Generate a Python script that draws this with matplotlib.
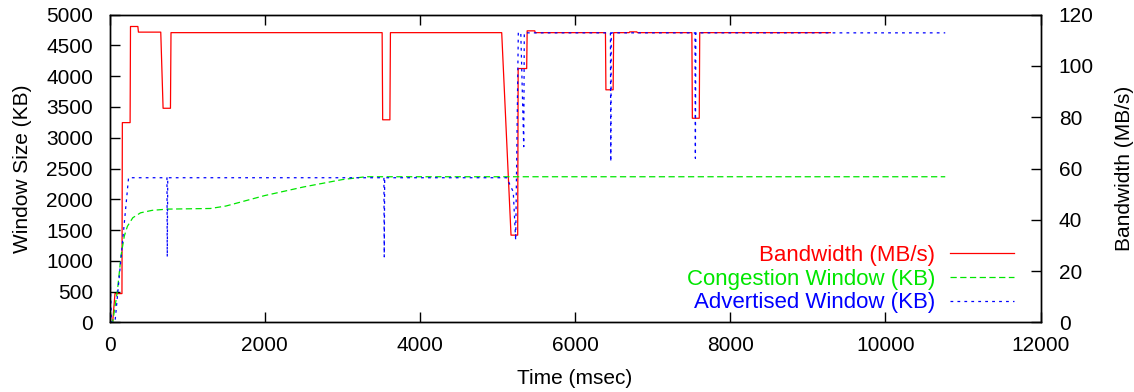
import matplotlib
matplotlib.use("Agg")
import matplotlib.pyplot as plt

plt.rcParams['font.family'] = ['Liberation Sans', 'DejaVu Sans']
plt.rcParams['font.size'] = 15
plt.rcParams['lines.scale_dashes'] = False

# bandwidth (MB/s), right axis
bw_t = [0, 40, 70, 160, 165, 265, 270, 365, 372, 660, 690, 785, 792,
        3513, 3520, 3613, 3620, 5054, 5174, 5260, 5266, 5376, 5382, 5480, 5486,
        6391, 6397, 6490, 6497, 6697, 6703, 6796, 6802, 7505, 7511, 7600, 7606, 9290]
bw = [0, 0, 11.2, 11.2, 77.9, 77.9, 115.4, 115.4, 113.2, 113.2, 83.5, 83.5, 113,
      113, 79, 79, 113, 113, 34, 34, 99, 99, 113.7, 113.7, 113,
      113, 90.7, 90.7, 113, 113, 113.3, 113.3, 113, 113, 79.6, 79.6, 113, 113]

# congestion window (KB)
cwnd_t = [0, 40, 100, 150, 190, 230, 300, 400, 550, 750, 1300, 1500,
          2000, 2500, 3000, 3300, 10770]
cwnd = [0, 0, 500, 1100, 1400, 1560, 1700, 1780, 1820, 1840, 1850, 1890,
        2060, 2200, 2320, 2366, 2366]

# advertised window (KB)
awnd_t = [0, 8, 25, 70, 245, 740, 744, 750, 3536, 3540, 3546,
          5118, 5203, 5234, 5268, 5300, 5338, 5345, 6455, 6460, 6466,
          7545, 7550, 7556, 10770]
awnd = [0, 740, 0, 0, 2350, 2350, 1064, 2350, 2350, 1064, 2350,
        2350, 2120, 1335, 4710, 4710, 2855, 4705, 4705, 2611, 4705,
        4705, 2666, 4705, 4705]

fig = plt.figure(figsize=(11.34, 3.92), dpi=100)
ax = fig.add_axes([0.0966, 0.1778, 0.9177 - 0.0966, 0.9625 - 0.1778])
ax2 = ax.twinx()
ax.set_zorder(ax2.get_zorder() + 1)
ax.patch.set_visible(False)

red, = ax2.plot(bw_t, bw, color='#ff0000', lw=0.9)
green, = ax.plot(cwnd_t, cwnd, color='#00e600', lw=0.9, dashes=[4.5, 2.5])
blue, = ax.plot(awnd_t, awnd, color='#0000ff', lw=0.9, dashes=[2.0, 3.0])

ax.set_xlim(0, 12000)
ax.set_ylim(0, 5000)
ax2.set_ylim(0, 120)
ax.set_xticks(range(0, 12001, 2000))
ax.set_yticks(range(0, 5001, 500))
ax2.set_yticks(range(0, 121, 20))

ax.tick_params(axis='x', direction='in', length=7, width=1, top=True, pad=10)
ax.tick_params(axis='y', direction='in', length=7, width=1, pad=12)
ax2.tick_params(axis='y', direction='in', length=7, width=1, pad=13)
for a in (ax, ax2):
    for s in a.spines.values():
        s.set_linewidth(1.0)

ax.set_xlabel('Time (msec)', labelpad=10)
ax.set_ylabel('Window Size (KB)', labelpad=10)
ax2.set_ylabel('Bandwidth (MB/s)', labelpad=15)

leg = ax.legend([red, green, blue],
                ['Bandwidth (MB/s)', 'Congestion Window (KB)', 'Advertised Window (KB)'],
                loc='center right', bbox_to_anchor=(0.9713, 0.1398),
                frameon=False, markerfirst=False, handlelength=2.9,
                handletextpad=0.65, labelspacing=0.12, borderpad=0, borderaxespad=0,
                fontsize=16)
for txt, c in zip(leg.get_texts(), ['#ff0000', '#00e600', '#0000ff']):
    txt.set_color(c)

fig.savefig('out.png', dpi=100)
